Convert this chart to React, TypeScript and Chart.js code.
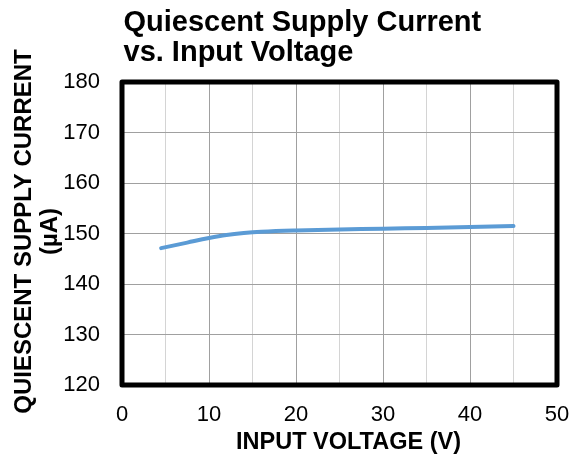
import React, { useEffect, useRef } from "react";
import { Chart, registerables } from "chart.js";

Chart.register(...registerables);

const inputVoltage = [4.5, 7.5, 10, 12, 14, 16, 20, 25, 30, 35, 40, 45];
const supplyCurrent = [147.1, 148.2, 149.1, 149.7, 150.1, 150.35, 150.6, 150.8, 150.95, 151.1, 151.3, 151.5];
const xMin = 0;
const xMax = 50;
const xStep = 5;
const yMin = 120;
const yMax = 180;
const yStep = 10;
const titleLines = ["Quiescent Supply Current", "vs. Input Voltage"];
const xTitle = "INPUT VOLTAGE (V)";
const yTitleLines = ["QUIESCENT SUPPLY CURRENT", "(µA)"];

const FONT = "'Liberation Sans', Arial, Helvetica, sans-serif";

const framePlugin = {
  id: "frameAndTitles",
  afterDraw(chart: any) {
    const ctx = chart.ctx as CanvasRenderingContext2D;
    const { left, right, top, bottom } = chart.chartArea;
    ctx.save();
    ctx.lineWidth = 5;
    ctx.strokeStyle = "#000";
    ctx.lineJoin = "round";
    ctx.strokeRect(left, top, right - left, bottom - top);

    ctx.fillStyle = "#000";
    ctx.textBaseline = "alphabetic";
    ctx.font = `bold 29px ${FONT}`;
    ctx.textAlign = "left";
    ctx.fillText(titleLines[0], left + 1.5, top - 51);
    ctx.fillText(titleLines[1], left + 1.5, top - 21);

    ctx.font = `bold 23.5px ${FONT}`;
    ctx.textAlign = "center";
    ctx.fillText(xTitle, (left + right) / 2 + 9, bottom + 63.5);

    ctx.font = `bold 24px ${FONT}`;
    const cy = (top + bottom) / 2 - 2;
    ctx.save();
    ctx.translate(31, cy);
    ctx.rotate(-Math.PI / 2);
    ctx.textAlign = "center";
    ctx.fillText(yTitleLines[0], 0, 0);
    ctx.restore();
    ctx.save();
    ctx.translate(57, cy);
    ctx.rotate(-Math.PI / 2);
    ctx.textAlign = "center";
    ctx.fillText(yTitleLines[1], 0, 0);
    ctx.restore();

    ctx.restore();
  },
};

export default function App() {
  const ref = useRef<HTMLCanvasElement | null>(null);
  useEffect(() => {
    if (!ref.current) return;
    const chart = new Chart(ref.current, {
      type: "line",
      data: {
        datasets: [
          {
            data: inputVoltage.map((x, i) => ({ x, y: supplyCurrent[i] })),
            borderColor: "#5b9bd5",
            borderWidth: 4,
            borderCapStyle: "round",
            pointRadius: 0,
            tension: 0.4,
            fill: false,
          },
        ],
      },
      options: {
        responsive: false,
        animation: false,
        layout: { padding: { left: 0, right: 16, top: 82, bottom: 0 } },
        plugins: { legend: { display: false }, tooltip: { enabled: false }, title: { display: false } },
        scales: {
          x: {
            type: "linear",
            min: xMin,
            max: xMax,
            afterFit: (s: any) => {
              s.height = 77;
              s.paddingLeft = 0;
              s.paddingRight = 0;
            },
            border: { display: false },
            grid: {
              drawTicks: false,
              lineWidth: 1,
              color: (c: any) => (c.tick && c.tick.value % 10 === 0 ? "#a0a0a0" : "#d4d4d4"),
            },
            ticks: {
              stepSize: xStep,
              autoSkip: false,
              maxRotation: 0,
              padding: 17,
              color: "#000",
              font: { family: FONT, size: 22 },
              callback: (v: any) => (Number(v) % 10 === 0 ? String(v) : ""),
            },
          },
          y: {
            type: "linear",
            min: yMin,
            max: yMax,
            afterFit: (s: any) => {
              s.width = 122;
              s.paddingTop = 0;
              s.paddingBottom = 0;
            },
            border: { display: false },
            grid: { drawTicks: false, lineWidth: 1, color: "#a0a0a0" },
            ticks: {
              stepSize: yStep,
              padding: 22,
              color: "#000",
              font: { family: FONT, size: 22 },
            },
          },
        },
      },
      plugins: [framePlugin],
    });
    return () => chart.destroy();
  }, []);
  return (
    <div style={{ position: "absolute", left: 0, top: 0, width: 573, height: 462 }}>
      <canvas ref={ref} width={573} height={462} style={{ width: 573, height: 462, display: "block" }} />
    </div>
  );
}
